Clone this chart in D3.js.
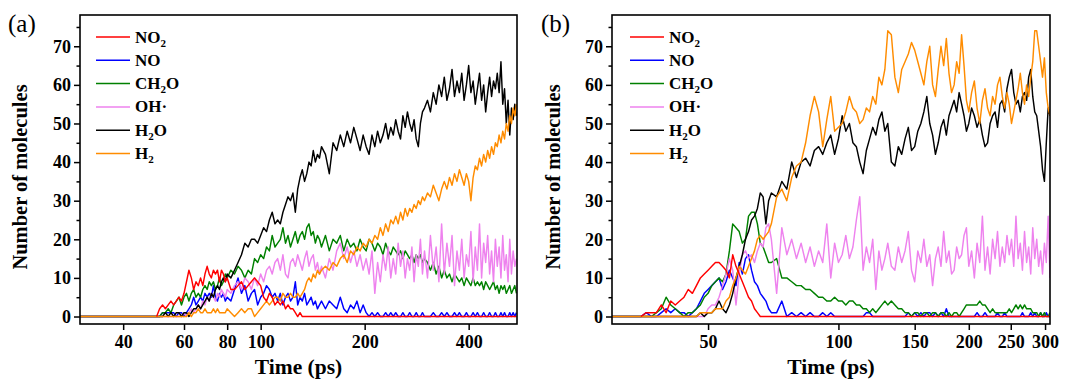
<!DOCTYPE html>
<html><head><meta charset="utf-8">
<script src="https://cdn.jsdelivr.net/npm/d3@7"></script>
<style>body{margin:0;background:#fff;} svg{display:block;}</style>
</head><body>
<svg id="chart" width="1070" height="381"></svg>
<script>
// ---------------- DATA ----------------
const seriesKeys = ["NO2","NO","CH2O","OH","H2O","H2"];
const yTicks = [0,10,20,30,40,50,60,70];
const yMinorTicks = [5,15,25,35,45,55,65,75];
const xTicksA = [40,60,80,100,200,400];
const xTicksB = [50,100,150,200,250,300];

// panel (a) sample times (ps)
const timeA = [30,50,
51,52,53,54,55,56,57,58,59,60,61,62,63,64,65,66,67,68,69,70,71,72,73,74,75,76,77,78,79,80,
82,84,86,88,90,92,94,96,98,100,102,104,106,108,110,112,114,116,118,120,122,124,126,128,130,132,134,136,138,140,142,144,146,148,150,
154,158,162,166,170,174,178,182,186,190,194,198,202,206,210,214,218,222,226,230,234,238,242,246,250,254,258,262,266,270,274,278,282,286,290,294,298,
304,310,316,322,328,334,340,346,352,358,364,370,376,382,388,394,400,406,412,418,424,430,436,442,448,454,460,466,472,478,484,490,496,502,508,514,520,526,532,538,544,550];

const a_NO2 = [null,0,
2,3,2,3,4,3,4,5,4,6,9,12,10,7,9,8,10,8,11,13,11,10,12,11,12,9,12,11,9,10,
7,7,8,9,7,8,9,10,9,8,5,4,6,5,3,4,3,4,2,3,2,2,1,0,1,0,0,0,0,0,0,0,0,0,0,
0,0,0,0,0,0,0,0,0,0,0,0,0,0,0,0,0,0,0,0,0,0,0,0,0,0,0,0,0,0,0,0,0,0,0,0,0,
0,0,0,0,0,0,0,0,0,0,0,0,0,0,0,0,0,0,0,0,0,0,0,0,0,0,0,0,0,0,0,0,0,0,0,0,0,0,0,0,0,0];
const a_NO = [0,0,
0,1,1,1,1,1,0,1,1,0,1,2,3,5,3,4,5,4,6,5,6,5,8,5,4,6,5,6,4,5,
4,7,10,6,8,4,6,7,3,5,6,8,7,5,6,4,6,3,5,6,4,5,9,3,5,4,6,3,4,5,3,4,2,3,4,
2,4,3,2,5,2,1,3,2,4,1,3,1,0,1,0,1,0,0,1,0,1,0,1,0,0,1,0,0,1,0,0,1,0,0,1,0,
0,0,1,0,0,1,0,1,0,0,1,0,1,0,0,1,0,0,1,0,1,0,0,1,0,0,1,0,0,1,0,0,1,0,1,0,0,1,0,1,0,1];
const a_CH2O = [0,0,
0,1,1,2,1,3,4,5,3,5,6,4,6,7,5,6,5,7,8,7,9,8,9,7,8,10,8,9,11,10,
12,11,13,12,10,12,11,15,14,16,15,18,17,21,18,19,20,23,19,21,18,20,22,19,21,22,20,23,24,21,22,19,21,20,18,
21,17,20,19,21,17,20,18,19,17,20,18,17,20,19,17,19,18,16,19,17,16,18,17,16,17,15,17,16,15,16,14,16,15,16,14,15,
14,12,14,11,13,10,12,10,11,9,11,10,9,10,8,10,9,8,10,8,9,8,9,7,9,8,7,8,9,7,8,6,8,7,8,6,7,8,6,7,8,6];
const a_OH = [0,0,
0,0,0,0,0,0,0,0,0,1,0,1,2,1,2,3,2,4,3,5,4,6,5,4,6,5,7,6,5,7,
6,8,9,7,10,9,7,10,8,11,9,12,13,11,14,15,12,16,11,10,14,15,13,16,14,12,15,17,13,15,16,12,14,11,13,
10,15,12,17,19,15,18,14,17,13,16,12,15,11,17,6,14,9,16,12,18,10,15,11,19,13,17,10,15,12,18,9,16,13,20,11,17,
10,21,12,18,9,24,11,19,13,21,8,17,12,20,10,16,13,22,9,18,12,24,10,19,14,21,11,17,9,20,13,18,10,21,12,16,9,20,11,17,13,15];
const a_H2O = [0,0,
0,0,1,0,1,0,1,1,0,1,1,0,1,2,2,3,2,3,4,5,4,6,5,7,8,7,9,10,9,11,
10,12,14,16,19,18,20,20,19,21,23,22,25,27,24,25,24,27,29,31,30,32,27,33,36,38,35,37,40,39,43,40,42,41,44,
42,37,45,43,47,44,48,45,49,46,43,47,44,42,47,44,48,45,47,50,46,49,47,51,48,46,52,49,53,50,48,51,46,44,50,53,54,
56,53,58,55,60,57,62,56,59,64,57,61,58,63,56,60,65,58,61,55,59,63,56,60,53,58,62,57,61,59,63,58,66,55,59,50,56,47,54,51,55,52];
const a_H2 = [0,0,
0,0,0,0,0,0,0,0,0,0,0,1,0,1,1,2,1,1,2,1,1,1,2,1,2,1,1,1,1,2,
1,0,1,2,1,2,2,0,1,2,3,4,3,4,5,5,4,6,5,5,6,5,5,6,5,6,7,9,10,9,11,10,12,11,12,
13,12,14,13,15,16,14,17,16,18,17,19,18,20,19,21,20,23,21,24,22,25,24,26,24,27,25,28,26,28,27,29,28,30,29,31,30,
32,31,34,32,30,33,35,33,36,34,37,35,38,36,34,37,35,30,36,39,38,41,39,42,40,43,41,44,42,45,44,47,45,48,46,50,48,52,50,54,52,55];

// panel (b) sample times (ps)
const timeB = [30,
35,36,37,38,39,40,41,42,43,44,45,46,47,48,49,50,51,52,53,54,55,56,57,58,59,60,61,62,63,64,65,66,67,68,69,70,
72,74,76,78,80,82,84,86,88,90,92,94,96,98,100,102,104,106,108,110,112,114,116,118,120,122,124,126,128,130,
132.5,135,137.5,140,142.5,145,147.5,150,152.5,155,157.5,160,162.5,165,167.5,170,172.5,175,177.5,180,182.5,185,187.5,190,192.5,195,197.5,200,
203,206,209,212,215,218,221,224,227,230,233,236,239,242,245,248,251,254,257,260,263,266,269,272,275,278,281,284,287,290,293,296,299,302,305,308];

const b_NO2 = [null,
0,1,1,1,3,1,4,3,4,5,7,6,8,10,11,12,13,14,14,13,12,10,16,13,11,9,7,5,4,2,1,0,0,0,0,0,
0,0,0,0,0,0,0,0,0,0,0,0,0,0,0,0,0,0,0,0,0,0,0,0,0,0,0,0,0,0,
0,0,0,0,0,0,0,0,0,0,0,0,0,0,0,0,0,0,0,0,0,0,0,0,0,0,0,0,
0,0,0,0,0,0,0,0,0,0,0,0,0,0,0,0,0,0,0,0,0,0,0,0,0,0,0,0,0,0,0,0,0,0,0,0];
const b_NO = [0,
0,1,0,0,1,2,1,2,1,1,0,1,2,4,6,7,8,9,10,7,9,12,10,8,14,11,15,16,12,9,8,6,5,4,2,1,
1,4,0,1,0,1,0,1,0,0,1,0,1,0,0,0,0,0,0,0,0,0,1,1,0,0,0,0,0,0,
0,0,0,0,0,1,0,1,0,1,0,1,1,0,1,0,1,0,2,0,0,0,0,0,0,0,0,0,
0,0,1,0,0,1,0,0,0,0,1,0,0,1,0,0,0,0,0,0,0,1,0,0,0,1,0,1,0,0,1,0,0,1,0,0];
const b_CH2O = [0,
0,0,0,1,2,5,3,2,1,0,1,1,2,3,5,6,8,9,10,9,11,17,24,23,22,19,20,26,27,27,24,19,18,16,14,14,
15,10,10,9,8,8,7,7,6,5,5,4,4,5,4,4,3,4,4,3,3,2,2,1,2,1,2,3,4,3,
4,3,2,2,1,1,0,1,1,0,1,1,0,1,1,0,1,1,0,1,0,1,1,0,1,2,3,3,
3,3,3,4,3,3,2,1,2,1,1,1,1,1,1,2,1,2,3,2,3,2,3,2,2,2,1,1,1,0,1,0,1,0,0,1];
const b_OH = [0,
0,0,0,0,0,0,0,0,0,0,0,0,0,0,0,2,3,3,5,8,11,15,12,3,11,16,17,15,16,14,17,19,18,23,24,20,
6,23,16,20,15,19,14,18,13,17,14,24,10,19,14,16,21,15,18,25,31,12,18,14,20,7,17,12,15,19,
13,12,18,14,17,22,12,9,17,14,20,13,16,8,15,18,13,22,14,17,11,12,18,15,16,21,23,13,
17,10,19,14,26,12,18,11,20,15,22,13,18,14,21,16,20,13,26,15,19,12,22,14,18,11,23,15,20,13,17,11,19,14,26,10];
const b_H2O = [0,
0,0,0,0,0,0,0,0,0,0,0,0,0,1,0,1,1,2,4,2,1,3,6,10,13,16,20,22,25,26,28,32,31,24,30,32,
31,35,33,40,36,40,41,39,43,44,42,45,47,42,46,52,48,50,45,44,40,37,43,46,49,47,51,53,48,50,
40,39,44,42,46,49,43,44,48,50,53,57,50,47,42,45,49,51,47,52,54,56,53,58,55,52,48,50,
54,52,49,51,47,44,45,50,52,53,49,55,56,53,59,62,64,58,55,56,53,57,58,56,62,64,57,53,52,48,44,38,35,45,54,52];
const b_H2 = [0,
0,0,0,0,0,0,0,0,0,0,0,0,0,1,1,1,1,2,2,2,4,5,8,10,13,12,11,13,15,17,20,21,20,21,22,24,
31,33,30,36,39,40,45,52,57,53,44,51,57,48,49,50,53,57,54,53,50,51,54,53,57,55,62,60,64,74,
73,62,58,64,66,68,71,69,66,63,60,66,70,60,57,64,70,65,72,63,58,60,66,63,73,65,56,53,
58,61,54,50,56,59,54,52,57,55,60,62,57,54,58,55,50,53,56,59,63,58,55,60,57,62,66,74,74,70,66,62,67,58,54,52];

// ---------------- STYLE ----------------
const colors = {NO2:"#FF0000", NO:"#0000FF", CH2O:"#008000", OH:"#EE82EE", H2O:"#000000", H2:"#FF8C00"};
const legendLabels = {
  NO2:[["NO",0],["2",1]], NO:[["NO",0]], CH2O:[["CH",0],["2",1],["O",0]],
  OH:[["OH·",0]], H2O:[["H",0],["2",1],["O",0]], H2:[["H",0],["2",1]]
};
const drawOrder = ["NO","CH2O","OH","H2O","H2","NO2"];
const FONT = "'Liberation Serif','Times New Roman',serif";

const svg = d3.select("#chart");

function panel(cfg){
  const g = svg.append("g");
  const x = d3.scaleLog().domain(cfg.xDomain).range([cfg.left, cfg.right]);
  const y = d3.scaleLinear().domain([-1.94, 78.1]).range([cfg.bottom, cfg.top]);

  const clipId = "clip" + cfg.id;
  svg.append("defs").append("clipPath").attr("id", clipId)
    .append("rect").attr("x", cfg.left).attr("y", cfg.top)
    .attr("width", cfg.right - cfg.left).attr("height", cfg.bottom - cfg.top);

  const line = d3.line().defined(d => d[1] !== null).x(d => x(d[0])).y(d => y(d[1]));
  const lg = g.append("g").attr("clip-path", `url(#${clipId})`);
  drawOrder.forEach(k => {
    const vals = cfg.data[k];
    const pts = cfg.time.map((t, i) => [t, vals[i] === undefined ? null : vals[i]]);
    lg.append("path").datum(pts).attr("d", line)
      .attr("fill", "none").attr("stroke", colors[k]).attr("stroke-width", 1.45)
      .attr("stroke-linejoin", "round");
  });

  // axes
  const yAxis = g.append("g").attr("transform", `translate(${cfg.left},0)`)
    .call(d3.axisLeft(y).tickValues(yTicks).tickSize(6).tickPadding(3).tickFormat(d3.format("d")));
  const yMinor = g.append("g").attr("transform", `translate(${cfg.left},0)`)
    .call(d3.axisLeft(y).tickValues(yMinorTicks).tickSize(3.5).tickFormat(""));
  const xAxis = g.append("g").attr("transform", `translate(0,${cfg.bottom})`)
    .call(d3.axisBottom(x).tickValues(cfg.xTicks).tickSize(6).tickPadding(5).tickFormat(d3.format("d")));
  [yAxis, yMinor, xAxis].forEach(a => {
    a.select(".domain").remove();
    a.selectAll("line").attr("stroke", "#000").attr("stroke-width", 1.5);
    a.selectAll("text").attr("font-family", FONT).attr("font-weight", "bold")
      .attr("font-size", 18).attr("fill", "#000");
  });

  g.append("rect").attr("x", cfg.left).attr("y", cfg.top)
    .attr("width", cfg.right - cfg.left).attr("height", cfg.bottom - cfg.top)
    .attr("fill", "none").attr("stroke", "#000").attr("stroke-width", 1.6);

  // titles
  g.append("text").attr("x", cfg.panelX).attr("y", 32).text(cfg.panelLabel)
    .attr("font-family", FONT).attr("font-size", 25).attr("fill", "#000");
  g.append("text").attr("transform", `translate(${cfg.yLabelX},177) rotate(-90)`)
    .attr("text-anchor", "middle").text("Number of molecules")
    .attr("font-family", FONT).attr("font-weight", "bold").attr("font-size", 20.5);
  g.append("text").attr("x", (cfg.left + cfg.right) / 2).attr("y", 374)
    .attr("text-anchor", "middle").text("Time (ps)")
    .attr("font-family", FONT).attr("font-weight", "bold").attr("font-size", 21.5);

  // legend
  seriesKeys.forEach((k, i) => {
    const yy = 37 + i * 23.3;
    g.append("line").attr("x1", cfg.legX).attr("x2", cfg.legX + 34)
      .attr("y1", yy).attr("y2", yy).attr("stroke", colors[k]).attr("stroke-width", 1.5);
    const t = g.append("text").attr("x", cfg.legX + 39).attr("y", yy + 5.5)
      .attr("font-family", FONT).attr("font-weight", "bold").attr("font-size", 17);
    let shifted = false;
    legendLabels[k].forEach(([s, sub]) => {
      const ts = t.append("tspan").text(s);
      if (sub) { ts.attr("font-size", 11).attr("dy", 4); shifted = true; }
      else if (shifted) { ts.attr("dy", -4); shifted = false; }
    });
  });
}

panel({id:"a", left:80, right:517, top:15, bottom:324, xDomain:[30,552], xTicks:xTicksA,
  time:timeA, data:{NO2:a_NO2, NO:a_NO, CH2O:a_CH2O, OH:a_OH, H2O:a_H2O, H2:a_H2},
  panelLabel:"(a)", panelX:8, yLabelX:27, legX:96});
panel({id:"b", left:612, right:1050, top:15, bottom:324, xDomain:[30,308], xTicks:xTicksB,
  time:timeB, data:{NO2:b_NO2, NO:b_NO, CH2O:b_CH2O, OH:b_OH, H2O:b_H2O, H2:b_H2},
  panelLabel:"(b)", panelX:541, yLabelX:560, legX:630});
</script>
</body></html>
